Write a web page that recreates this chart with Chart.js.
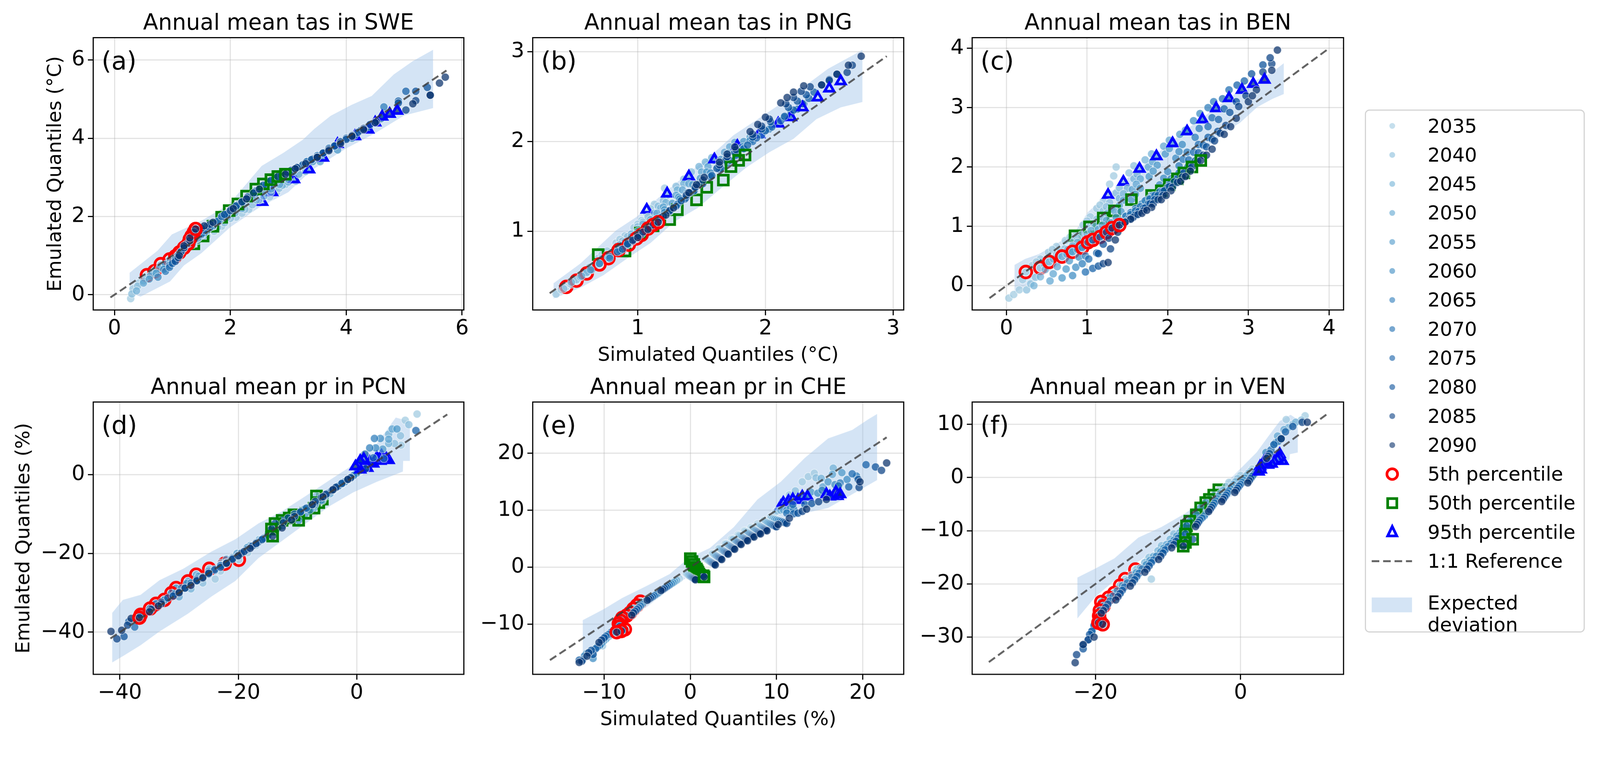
<!DOCTYPE html>
<html><head><meta charset="utf-8">
<script src="https://cdn.jsdelivr.net/npm/chart.js@4.4.1/dist/chart.umd.min.js"></script>
<style>
html,body{margin:0;padding:0;background:#fff;overflow:hidden;}
#root{position:absolute;left:0;top:0;width:4205px;height:1949px;transform-origin:0 0;font-family:"DejaVu Sans",sans-serif;background:#fff;}
canvas.panel{position:absolute;}
#legend{position:absolute;left:3587px;top:288px;width:578px;height:1375px;box-sizing:border-box;border:3px solid #d4d4d4;border-radius:12px;background:#fff;}
.lt{position:absolute;left:3752px;font-size:51px;line-height:61px;color:#000;white-space:nowrap;font-family:"DejaVu Sans",sans-serif;}
#lsvg{position:absolute;left:0;top:0;pointer-events:none;}
</style></head><body>
<div id="root">
<canvas id="pa" class="panel"></canvas>
<canvas id="pb" class="panel"></canvas>
<canvas id="pc" class="panel"></canvas>
<canvas id="pd" class="panel"></canvas>
<canvas id="pe" class="panel"></canvas>
<canvas id="pf" class="panel"></canvas>
<div id="legend"></div>
<svg id="lsvg" width="4205" height="1949"></svg>
</div>
<script>
// ---------------- DATA ----------------
const years = ['2035','2040','2045','2050','2055','2060','2065','2070','2075','2080','2085','2090'];
const percentileLabels = ['5th percentile','50th percentile','95th percentile'];

// (a) SWE tas
const sweQ = [
 [[0.28,-0.1],[0.32,0.15],[0.42,0.3],[0.56,0.48],[0.7,0.62],[0.85,0.78],[1.0,0.92],[1.18,1.1],[1.37,1.28],[1.6,1.5],[1.85,1.75],[2.1,1.98],[2.32,2.18],[2.55,2.38],[2.8,2.62]],
 [[0.3,0.02],[0.4,0.22],[0.55,0.45],[0.69,0.6],[0.85,0.76],[1.0,0.9],[1.18,1.1],[1.35,1.28],[1.53,1.48],[1.78,1.72],[2.0,1.95],[2.25,2.18],[2.5,2.42],[2.72,2.62],[2.95,2.82],[3.13,2.9]],
 [[0.38,0.1],[0.5,0.35],[0.65,0.55],[0.8,0.76],[0.95,0.9],[1.12,1.08],[1.3,1.3],[1.5,1.52],[1.7,1.74],[1.95,1.98],[2.2,2.2],[2.45,2.42],[2.7,2.62],[2.9,2.8],[3.1,2.95],[3.3,3.15]],
 [[0.5,0.3],[0.62,0.48],[0.78,0.68],[0.95,0.88],[1.1,1.04],[1.3,1.28],[1.5,1.52],[1.7,1.75],[1.85,1.96],[2.1,2.22],[2.4,2.48],[2.7,2.7],[3.0,2.95],[3.36,3.2],[3.55,3.4]],
 [[0.6,0.4],[0.72,0.55],[0.88,0.78],[1.05,0.96],[1.25,1.2],[1.45,1.45],[1.7,1.76],[1.98,2.12],[2.25,2.42],[2.55,2.68],[2.9,2.98],[3.25,3.3],[3.6,3.5],[3.85,3.7]],
 [[0.75,0.45],[0.85,0.65],[1.0,0.85],[1.12,1.05],[1.32,1.3],[1.55,1.58],[1.8,1.88],[2.13,2.3],[2.45,2.6],[2.8,2.92],[3.15,3.25],[3.5,3.55],[3.85,3.85],[4.1,4.0]],
 [[0.88,0.6],[0.95,0.75],[1.08,0.98],[1.2,1.18],[1.4,1.42],[1.65,1.72],[1.95,2.05],[2.28,2.45],[2.6,2.76],[2.95,3.05],[3.3,3.38],[3.7,3.75],[4.15,4.05],[4.4,4.3],[4.65,4.8]],
 [[0.95,0.7],[1.05,0.9],[1.15,1.1],[1.27,1.3],[1.5,1.55],[1.78,1.88],[2.1,2.25],[2.44,2.65],[2.8,2.95],[3.15,3.25],[3.5,3.55],[3.9,3.92],[4.38,4.22],[4.6,4.5]],
 [[1.0,0.8],[1.1,1.0],[1.2,1.2],[1.3,1.4],[1.55,1.65],[1.85,2.0],[2.2,2.38],[2.57,2.8],[2.9,3.05],[3.25,3.32],[3.6,3.62],[4.0,4.0],[4.5,4.4],[4.9,4.95],[5.03,5.2]],
 [[1.05,0.85],[1.15,1.1],[1.25,1.3],[1.33,1.5],[1.6,1.75],[1.9,2.05],[2.3,2.5],[2.7,2.92],[3.05,3.18],[3.4,3.45],[3.8,3.8],[4.2,4.15],[4.62,4.55],[4.9,4.9],[5.2,5.2],[5.4,5.3]],
 [[1.1,0.95],[1.2,1.2],[1.3,1.38],[1.37,1.6],[1.65,1.8],[2.0,2.15],[2.4,2.6],[2.82,3.02],[3.15,3.25],[3.5,3.52],[3.9,3.9],[4.3,4.25],[4.75,4.62],[5.03,4.72],[5.2,4.96],[5.45,5.1]],
 [[1.12,1.0],[1.2,1.25],[1.3,1.45],[1.4,1.68],[1.7,1.85],[2.05,2.2],[2.5,2.7],[2.95,3.08],[3.3,3.35],[3.7,3.68],[4.1,4.05],[4.5,4.4],[4.88,4.72],[5.15,4.88],[5.45,5.1],[5.61,5.41],[5.71,5.56]]
];
const sweQMid = [
 [[0.63,0.55],[0.92,0.85],[1.28,1.19],[1.72,1.62],[2.2,2.08],[2.68,2.5]],
 [[0.62,0.52],[0.93,0.83],[1.44,1.38],[1.9,1.84],[2.38,2.3],[2.84,2.72]],
 [[0.72,0.66],[1.04,1.0],[1.6,1.63],[2.08,2.09],[2.58,2.52],[3.0,2.88]],
 [[0.87,0.78],[1.2,1.16],[1.6,1.64],[2.25,2.35],[2.85,2.82],[3.18,3.08]],
 [[0.97,0.87],[1.35,1.32],[1.84,1.94],[2.4,2.55],[3.08,3.14],[3.42,3.4]],
 [[1.06,0.95],[1.43,1.44],[1.96,2.09],[2.62,2.76],[3.32,3.4],[3.68,3.7]],
 [[1.3,1.3],[1.8,1.88],[2.44,2.6],[3.12,3.22],[3.5,3.56],[3.92,3.9]],
 [[1.38,1.42],[1.94,2.06],[2.62,2.8],[3.32,3.4],[3.7,3.74],[4.14,4.07]],
 [[1.42,1.52],[2.02,2.19],[2.74,2.92],[3.42,3.47],[3.8,3.81],[4.25,4.2]],
 [[1.46,1.62],[2.1,2.27],[2.88,3.05],[3.6,3.62],[4.0,3.97],[4.41,4.35]],
 [[1.5,1.7],[2.2,2.37],[2.98,3.13],[3.7,3.71],[4.1,4.07],[4.52,4.43]],
 [[1.55,1.76],[2.28,2.45],[3.12,3.22],[3.5,3.51],[3.9,3.86],[4.3,4.22]]
];
const sweP5 = [[0.56,0.5],[0.69,0.6],[0.8,0.78],[0.95,0.9],[1.05,0.98],[1.12,1.08],[1.2,1.2],[1.27,1.3],[1.3,1.42],[1.33,1.5],[1.37,1.6],[1.4,1.68]];
const sweP50 = [[1.37,1.3],[1.53,1.5],[1.7,1.75],[1.85,1.98],[1.98,2.15],[2.13,2.32],[2.28,2.52],[2.44,2.7],[2.57,2.83],[2.7,2.94],[2.82,3.02],[2.95,3.08]];
const sweP95 = [[2.55,2.37],[2.72,2.62],[3.1,2.95],[3.36,3.2],[3.6,3.5],[3.85,3.85],[4.15,4.05],[4.38,4.22],[4.5,4.4],[4.62,4.55],[4.75,4.62],[4.88,4.7]];
const sweBandHi = [[0.26,0.56],[0.74,1.12],[0.99,1.54],[1.51,1.9],[1.97,2.3],[2.54,3.29],[2.92,3.63],[3.25,3.96],[3.45,4.24],[3.73,4.57],[4.09,4.85],[4.44,5.08],[4.82,5.63],[5.15,5.97],[5.5,6.26]];
const sweBandLo = [[0.26,0.05],[0.45,-0.05],[0.96,0.34],[1.2,0.75],[1.5,1.06],[2.0,1.73],[2.5,2.23],[3.0,2.62],[3.4,3.18],[4.0,3.74],[4.5,4.13],[5.0,4.58],[5.5,4.77]];
const sweRef = [-0.07, 5.73];
const sweXTicks = [0,2,4,6], sweYTicks = [0,2,4,6];

// (b) PNG tas
const pngQ = [
 [[0.36,0.3],[0.4,0.35],[0.44,0.38],[0.5,0.45],[0.56,0.52],[0.62,0.6],[0.69,0.7],[0.76,0.78],[0.83,0.87],[0.9,0.95],[0.97,1.04],[1.03,1.12],[1.07,1.2],[1.13,1.3],[1.21,1.48]],
 [[0.42,0.36],[0.48,0.41],[0.52,0.46],[0.6,0.55],[0.68,0.65],[0.76,0.74],[0.84,0.84],[0.92,0.94],[1.0,1.05],[1.08,1.16],[1.16,1.28],[1.23,1.4],[1.3,1.5],[1.42,1.66]],
 [[0.48,0.43],[0.55,0.49],[0.6,0.54],[0.68,0.63],[0.77,0.74],[0.86,0.85],[0.95,0.97],[1.04,1.08],[1.13,1.2],[1.22,1.32],[1.31,1.46],[1.4,1.6],[1.48,1.72],[1.58,1.82]],
 [[0.56,0.5],[0.64,0.57],[0.7,0.64],[0.8,0.76],[0.9,0.88],[1.0,1.0],[1.1,1.13],[1.2,1.27],[1.3,1.4],[1.4,1.53],[1.5,1.66],[1.6,1.79],[1.68,1.88],[1.76,1.99]],
 [[0.63,0.57],[0.7,0.64],[0.77,0.71],[0.88,0.84],[0.99,0.97],[1.1,1.1],[1.21,1.24],[1.32,1.38],[1.43,1.52],[1.54,1.66],[1.65,1.8],[1.78,1.94],[1.88,2.05]],
 [[0.7,0.64],[0.78,0.72],[0.85,0.8],[0.97,0.93],[1.09,1.07],[1.21,1.21],[1.33,1.36],[1.45,1.5],[1.57,1.65],[1.69,1.8],[1.82,1.94],[1.95,2.08],[2.05,2.18]],
 [[0.78,0.7],[0.86,0.78],[0.93,0.86],[1.05,1.0],[1.18,1.15],[1.31,1.3],[1.44,1.45],[1.57,1.6],[1.7,1.76],[1.83,1.92],[1.97,2.07],[2.1,2.21],[2.2,2.33]],
 [[0.84,0.77],[0.92,0.85],[0.99,0.93],[1.12,1.07],[1.25,1.22],[1.38,1.38],[1.51,1.53],[1.64,1.69],[1.77,1.85],[1.9,2.0],[2.05,2.16],[2.2,2.3],[2.3,2.42]],
 [[0.88,0.8],[0.96,0.89],[1.03,0.97],[1.16,1.12],[1.3,1.28],[1.44,1.45],[1.58,1.62],[1.72,1.79],[1.86,1.96],[2.0,2.12],[2.15,2.28],[2.29,2.42],[2.38,2.55]],
 [[0.92,0.86],[1.0,0.95],[1.08,1.03],[1.2,1.17],[1.34,1.34],[1.48,1.52],[1.62,1.7],[1.76,1.88],[1.9,2.05],[2.04,2.22],[2.18,2.38],[2.32,2.52],[2.44,2.63],[2.56,2.75]],
 [[0.96,0.9],[1.04,0.99],[1.12,1.07],[1.25,1.23],[1.38,1.4],[1.51,1.57],[1.64,1.74],[1.77,1.91],[1.9,2.08],[2.03,2.25],[2.16,2.42],[2.28,2.56],[2.35,2.61],[2.64,2.77],[2.68,2.85]],
 [[1.0,0.93],[1.08,1.02],[1.16,1.1],[1.28,1.26],[1.4,1.43],[1.52,1.6],[1.64,1.77],[1.76,1.94],[1.88,2.11],[2.0,2.27],[2.12,2.43],[2.22,2.55],[2.3,2.62],[2.44,2.63],[2.56,2.75],[2.75,2.95]]
];
const pngQMid = [
 [[0.47,0.41],[0.59,0.56],[0.72,0.74],[0.86,0.91],[1.0,1.08],[1.1,1.25]],
 [[0.55,0.5],[0.72,0.7],[0.88,0.89],[1.04,1.1],[1.2,1.34],[1.36,1.58]],
 [[0.64,0.58],[0.82,0.8],[1.0,1.02],[1.18,1.26],[1.36,1.53],[1.53,1.77]],
 [[0.75,0.7],[0.95,0.94],[1.15,1.2],[1.35,1.46],[1.55,1.72],[1.72,1.94]],
 [[0.83,0.78],[1.05,1.04],[1.27,1.31],[1.49,1.59],[1.71,1.87],[1.83,2.0]],
 [[0.91,0.86],[1.15,1.14],[1.39,1.43],[1.63,1.72],[1.88,2.01],[2.0,2.13]],
 [[0.99,0.93],[1.25,1.23],[1.5,1.52],[1.77,1.84],[2.03,2.14],[2.15,2.27]],
 [[1.05,1.0],[1.31,1.3],[1.57,1.61],[1.83,1.92],[2.12,2.23],[2.25,2.36]],
 [[1.1,1.05],[1.37,1.36],[1.65,1.7],[1.93,2.04],[2.22,2.35],[2.34,2.48]],
 [[1.14,1.1],[1.41,1.43],[1.69,1.79],[1.97,2.14],[2.25,2.45],[2.5,2.69]],
 [[1.18,1.15],[1.45,1.49],[1.7,1.83],[1.97,2.17],[2.22,2.49],[2.5,2.68]],
 [[1.22,1.18],[1.46,1.52],[1.7,1.86],[1.94,2.19],[2.17,2.49],[2.65,2.85]]
];
const pngP5 = [[0.44,0.38],[0.52,0.45],[0.6,0.53],[0.7,0.63],[0.77,0.7],[0.85,0.79],[0.93,0.85],[0.99,0.92],[1.03,0.96],[1.08,1.03],[1.12,1.07],[1.16,1.1]];
const pngP50 = [[0.69,0.74],[0.9,0.78],[1.02,0.98],[1.12,1.06],[1.25,1.13],[1.31,1.24],[1.46,1.35],[1.54,1.49],[1.67,1.57],[1.73,1.72],[1.79,1.79],[1.84,1.85]];
const pngP95 = [[1.07,1.24],[1.23,1.42],[1.4,1.61],[1.6,1.8],[1.78,1.95],[1.95,2.08],[2.1,2.2],[2.2,2.27],[2.29,2.38],[2.41,2.49],[2.5,2.59],[2.59,2.67]];
const pngBandHi = [[0.34,0.42],[0.55,0.64],[0.83,1.01],[0.99,1.16],[1.2,1.42],[1.38,1.63],[1.57,1.84],[1.75,2.07],[1.94,2.25],[2.12,2.42],[2.31,2.62],[2.49,2.81],[2.76,3.02]];
const pngBandLo = [[0.34,0.25],[0.55,0.37],[0.73,0.51],[0.92,0.7],[1.1,0.87],[1.29,1.11],[1.47,1.26],[1.66,1.49],[1.85,1.71],[2.03,1.88],[2.22,2.03],[2.4,2.25],[2.59,2.38],[2.76,2.44]];
const pngRef = [0.31, 2.95];
const pngXTicks = [1,2,3], pngYTicks = [1,2,3];

// (c) BEN tas
const benQ = [
 [[0.03,-0.21],[0.09,-0.15],[0.16,-0.07],[0.2,0.1],[0.24,0.23],[0.32,0.34],[0.42,0.45],[0.52,0.56],[0.62,0.66],[0.73,0.76],[0.85,0.88],[0.95,1.02],[1.04,1.16],[1.12,1.3],[1.2,1.42],[1.26,1.53],[1.28,1.71],[1.33,1.85],[1.36,2.0]],
 [[0.25,-0.07],[0.3,0.03],[0.36,0.14],[0.42,0.3],[0.52,0.42],[0.62,0.52],[0.72,0.62],[0.83,0.74],[0.93,0.86],[1.03,0.99],[1.12,1.12],[1.2,1.26],[1.28,1.4],[1.36,1.56],[1.45,1.75],[1.52,1.9],[1.58,2.02]],
 [[0.34,0.0],[0.42,0.15],[0.48,0.27],[0.53,0.4],[0.64,0.5],[0.76,0.61],[0.88,0.73],[1.0,0.87],[1.1,1.0],[1.2,1.14],[1.3,1.3],[1.4,1.47],[1.5,1.64],[1.58,1.8],[1.65,1.97],[1.72,2.12],[1.8,2.22]],
 [[0.54,0.08],[0.58,0.2],[0.63,0.32],[0.69,0.49],[0.8,0.58],[0.92,0.68],[1.03,0.8],[1.14,0.95],[1.24,1.1],[1.34,1.26],[1.45,1.44],[1.56,1.62],[1.66,1.8],[1.76,2.0],[1.86,2.18],[1.95,2.35],[2.02,2.45]],
 [[0.69,0.13],[0.74,0.28],[0.78,0.42],[0.82,0.57],[0.94,0.66],[1.06,0.76],[1.18,0.9],[1.3,1.06],[1.42,1.25],[1.55,1.45],[1.66,1.64],[1.77,1.84],[1.87,2.03],[1.97,2.22],[2.06,2.4],[2.15,2.55],[2.22,2.62]],
 [[0.82,0.17],[0.86,0.31],[0.9,0.48],[0.94,0.64],[1.06,0.74],[1.18,0.85],[1.3,0.98],[1.42,1.1],[1.55,1.24],[1.68,1.38],[1.8,1.52],[1.9,1.7],[2.0,1.92],[2.1,2.15],[2.18,2.38],[2.24,2.6],[2.32,2.78],[2.4,2.9]],
 [[0.94,0.37],[0.98,0.5],[1.01,0.73],[1.12,0.82],[1.24,0.93],[1.36,1.05],[1.48,1.17],[1.6,1.3],[1.72,1.43],[1.82,1.52],[1.92,1.6],[2.04,1.8],[2.14,2.02],[2.24,2.25],[2.34,2.5],[2.43,2.8],[2.5,3.0],[2.57,3.1]],
 [[0.98,0.23],[1.02,0.45],[1.07,0.77],[1.18,0.86],[1.3,0.97],[1.42,1.08],[1.54,1.2],[1.66,1.33],[1.78,1.46],[1.9,1.58],[2.02,1.7],[2.14,1.9],[2.26,2.12],[2.38,2.38],[2.5,2.68],[2.6,2.99],[2.68,3.15],[2.76,3.3]],
 [[1.07,0.29],[1.12,0.55],[1.16,0.82],[1.28,0.92],[1.4,1.02],[1.52,1.13],[1.64,1.25],[1.76,1.38],[1.88,1.52],[2.0,1.66],[2.12,1.8],[2.25,2.0],[2.38,2.24],[2.5,2.5],[2.63,2.8],[2.76,3.16],[2.86,3.38],[2.95,3.45]],
 [[1.14,0.33],[1.14,0.54],[1.2,0.7],[1.24,0.9],[1.36,0.99],[1.48,1.08],[1.6,1.19],[1.72,1.31],[1.84,1.45],[1.96,1.6],[2.08,1.75],[2.2,1.9],[2.34,2.1],[2.48,2.34],[2.62,2.6],[2.77,2.92],[2.92,3.3],[3.04,3.57],[3.18,3.72]],
 [[1.2,0.37],[1.29,0.62],[1.27,0.8],[1.31,0.97],[1.44,1.06],[1.57,1.15],[1.7,1.26],[1.82,1.38],[1.94,1.52],[2.06,1.66],[2.18,1.83],[2.3,2.0],[2.44,2.2],[2.58,2.44],[2.72,2.7],[2.88,3.02],[3.06,3.4],[3.18,3.6],[3.29,3.74],[3.27,3.84]],
 [[1.26,0.39],[1.35,0.77],[1.38,0.9],[1.4,1.02],[1.54,1.12],[1.68,1.22],[1.8,1.32],[1.92,1.45],[2.04,1.6],[2.16,1.76],[2.28,1.93],[2.41,2.11],[2.55,2.3],[2.7,2.55],[2.85,2.82],[3.0,3.1],[3.1,3.3],[3.2,3.47],[3.29,3.63],[3.36,3.97]]
];
const benQMid = [
 [[0.37,0.4],[0.57,0.61],[0.79,0.82],[1.0,1.09],[1.16,1.36]],
 [[0.47,0.36],[0.67,0.57],[0.88,0.8],[1.08,1.05],[1.24,1.33],[1.4,1.65]],
 [[0.58,0.45],[0.82,0.67],[1.05,0.93],[1.25,1.22],[1.45,1.55],[1.62,1.88]],
 [[0.75,0.53],[0.98,0.74],[1.19,1.02],[1.4,1.35],[1.61,1.71],[1.81,2.09]],
 [[0.88,0.61],[1.12,0.83],[1.36,1.15],[1.6,1.54],[1.82,1.93],[2.02,2.31]],
 [[1.0,0.69],[1.24,0.91],[1.48,1.17],[1.74,1.45],[1.95,1.81],[2.14,2.26]],
 [[1.06,0.77],[1.3,0.99],[1.54,1.23],[1.77,1.47],[1.98,1.7],[2.19,2.13],[2.39,2.65]],
 [[1.12,0.81],[1.36,1.02],[1.6,1.26],[1.84,1.52],[2.08,1.8],[2.32,2.25],[2.55,2.83]],
 [[1.22,0.87],[1.46,1.07],[1.7,1.31],[1.94,1.59],[2.18,1.9],[2.44,2.37],[2.7,2.98]],
 [[1.3,0.94],[1.54,1.13],[1.78,1.38],[2.02,1.67],[2.27,2.0],[2.55,2.47],[2.85,3.1]],
 [[1.37,1.01],[1.63,1.2],[1.88,1.45],[2.12,1.74],[2.37,2.1],[2.65,2.57],[2.97,3.2]],
 [[1.47,1.07],[1.74,1.27],[1.98,1.52],[2.22,1.84],[2.48,2.2],[2.78,2.68],[3.05,3.2]]
];
const benP5 = [[0.24,0.23],[0.42,0.3],[0.53,0.4],[0.69,0.49],[0.82,0.57],[0.94,0.64],[1.01,0.73],[1.07,0.77],[1.16,0.82],[1.24,0.9],[1.31,0.97],[1.4,1.02]];
const benP50 = [[0.85,0.84],[1.03,0.99],[1.2,1.14],[1.34,1.26],[1.55,1.45],[1.8,1.52],[1.92,1.6],[2.02,1.7],[2.12,1.8],[2.2,1.9],[2.3,2.0],[2.41,2.11]];
const benP95 = [[1.26,1.53],[1.45,1.75],[1.65,1.97],[1.86,2.18],[2.06,2.4],[2.24,2.6],[2.43,2.8],[2.6,2.99],[2.76,3.16],[2.92,3.3],[3.06,3.4],[3.2,3.47]];
const benBandHi = [[0.1,0.35],[0.23,0.45],[0.4,0.53],[0.59,0.68],[0.84,0.89],[1.01,1.24],[1.14,1.4],[1.4,1.7],[1.8,2.15],[2.2,2.6],[2.6,3.0],[3.0,3.4],[3.3,3.6],[3.44,3.75]];
const benBandLo = [[0.1,-0.12],[0.3,0.05],[0.6,0.3],[1.0,0.65],[1.4,1.0],[1.8,1.45],[2.2,1.95],[2.5,2.35],[2.75,2.62],[2.9,2.75],[3.11,3.01],[3.3,3.15],[3.44,3.23]];
const benRef = [-0.21, 3.97];
const benXTicks = [0,1,2,3,4], benYTicks = [0,1,2,3,4];

// (d) PCN pr
const pcnQ = [
 [[-23.9,-26.5],[-23,-24.5],[-19.9,-21.6],[-17,-18],[-14,-14.5],[-11,-11.3],[-8,-8.3],[-5.8,-6.2],[-3.5,-3.5],[-1.5,-1.3],[0.5,0.8],[2.5,2.6],[5.4,3.7],[7.5,7.5],[8.2,13.8],[10.2,15.4]],
 [[-26,-27.5],[-24,-24.5],[-22.3,-22.6],[-19,-19.5],[-16,-16.3],[-13,-13.2],[-10,-10],[-6.8,-5.4],[-4.5,-4.3],[-2,-1.8],[0.5,0.9],[2.5,2.8],[5,4.1],[6.4,7.9],[7.4,9.9],[8.8,12.7]],
 [[-28,-29],[-26.5,-26.5],[-24.9,-23.9],[-21,-21],[-18,-18],[-15,-15],[-12,-12],[-9,-9],[-6.4,-7.1],[-4,-4],[-1.5,-1.2],[1,1.5],[4.2,4.8],[5.4,7.9],[5.4,10.3]],
 [[-30,-31],[-29,-28],[-27.1,-25.4],[-23,-23],[-20,-20.2],[-17,-17.2],[-14,-14],[-10.5,-10.5],[-7.2,-8.5],[-4.5,-4.8],[-2,-1.8],[0.8,1.3],[4,3.5],[5.4,9.0],[6.0,11.6]],
 [[-32,-32],[-30,-29.5],[-28.5,-27.1],[-25,-24.5],[-22,-21.5],[-18.5,-18.5],[-15,-15],[-12,-12],[-8.6,-9.8],[-5.5,-5.5],[-2.5,-2.3],[0.5,1.0],[3.4,4.3],[4.4,6.5],[6.8,11.6]],
 [[-34,-34],[-32,-31.5],[-30.5,-28.8],[-27,-26.5],[-23,-23],[-19.5,-19.8],[-16,-16.3],[-12.5,-13],[-9.8,-11.6],[-6,-6.5],[-3,-2.8],[0,0.4],[2.8,2.8],[3.2,6.8],[4.0,9.2]],
 [[-36,-35.5],[-33,-32.5],[-31.3,-30.1],[-28,-27.5],[-24,-24],[-20,-20.5],[-17,-17.5],[-13.5,-13.8],[-10.6,-10.2],[-7,-7.2],[-3.5,-3.3],[-0.5,-0.2],[2.2,3.2],[2.2,6.8],[3.0,9.2]],
 [[-37.5,-38.7],[-35,-34.5],[-32.5,-31.8],[-29,-28.8],[-25,-25],[-21,-21.3],[-17.5,-18],[-14,-14.5],[-11.4,-11.0],[-7.5,-7.6],[-4,-3.9],[-1,-0.7],[1.8,1.7],[2.8,4.3],[4.6,4.1]],
 [[-38.5,-37.3],[-36,-35.5],[-33.9,-32.8],[-30,-29.8],[-26,-26],[-22,-22.5],[-18.5,-19],[-15,-15.5],[-12.6,-11.6],[-8.5,-8.5],[-5,-4.8],[-1.5,-1.3],[1.2,3.9],[1.4,5.2],[10,11.2]],
 [[-39.3,-41.1],[-37,-36.5],[-34.9,-34],[-31,-30.8],[-27,-27],[-23,-23.5],[-19.5,-20],[-16,-16.5],[-13.8,-12.4],[-9.5,-9.5],[-6,-5.8],[-2.5,-2.2],[0.6,3.5],[1.5,1.5]],
 [[-40.5,-41.7],[-38.7,-38.2],[-36.5,-35.6],[-33,-32.8],[-29,-28.8],[-25,-25],[-21,-21.5],[-17,-17.5],[-14.4,-13.8],[-10.5,-10.6],[-7,-6.8],[-3.5,-3.2],[-1,-0.8],[0.6,1.3]],
 [[-41.5,-39.8],[-39.7,-39.5],[-38.1,-36.5],[-36.7,-36.3],[-33.5,-33.3],[-30,-30],[-26,-26.2],[-22,-22.5],[-18,-18.7],[-14.2,-15.6],[-11,-11.5],[-7.5,-7.6],[-4,-3.8],[-1.5,-1.2],[-0.2,2.1]]
];
const pcnQMid = [
 [[-18.4,-19.8],[-12.5,-12.9],[-9.5,-9.8],[-2.5,-2.4],[1.5,1.7]],
 [[-20.6,-21],[-14.5,-14.7],[-11.5,-11.6],[-3.2,-3.0],[1.5,1.8]],
 [[-22.9,-22.4],[-16.5,-16.5],[-10.5,-10.5],[-5.2,-5.5],[-0.2,0.2]],
 [[-25,-24.2],[-18.5,-18.7],[-12.2,-12.2],[-5.8,-6.6],[-0.6,-0.3]],
 [[-26.7,-25.8],[-20.2,-20],[-13.5,-13.5],[-7,-7.6],[-1,-0.6]],
 [[-28.7,-27.6],[-21.2,-21.4],[-14.2,-14.6],[-7.9,-9],[-1.5,-1.2]],
 [[-29.6,-28.8],[-22,-22.3],[-15.2,-15.6],[-8.8,-8.7],[-2,-1.8]],
 [[-30.7,-30.3],[-23,-23.1],[-15.8,-16.2],[-9.4,-9.3],[-2.5,-2.3]],
 [[-31.9,-31.3],[-24,-24.2],[-16.7,-17.2],[-10.5,-10],[-3.2,-3.0]],
 [[-33,-32.4],[-25,-25.2],[-17.7,-18.2],[-11.6,-11],[-4.2,-4.0]],
 [[-34.7,-34.2],[-27,-26.9],[-19,-19.5],[-12.4,-12.2],[-5.2,-5.0]],
 [[-35,-34.8],[-28,-28.1],[-20,-20.6],[-12.6,-13.5],[-5.7,-5.6]]
];
const pcnP5 = [[-19.9,-21.6],[-22.3,-22.6],[-24.9,-23.9],[-27.1,-25.4],[-28.5,-27.1],[-30.5,-28.8],[-31.3,-30.1],[-32.5,-31.8],[-33.9,-32.8],[-34.9,-34.0],[-36.5,-35.6],[-36.7,-36.3]];
const pcnP50 = [[-5.8,-6.2],[-6.8,-5.4],[-6.4,-7.1],[-7.2,-8.5],[-8.6,-9.8],[-9.8,-11.6],[-10.6,-10.2],[-11.4,-11.0],[-12.6,-11.6],[-13.8,-12.4],[-14.4,-13.8],[-14.2,-15.6]];
const pcnP95 = [[5.4,3.7],[5.0,4.1],[4.2,4.8],[4.0,3.5],[3.4,4.3],[2.8,2.8],[2.2,3.2],[1.8,1.7],[1.2,3.9],[0.6,3.5],[0.6,1.3],[-0.2,2.1]];
const pcnBandHi = [[-41.3,-35.1],[-39.5,-31.8],[-36.5,-30.5],[-33.3,-26.8],[-29.3,-23.9],[-24.5,-19.5],[-20.5,-16.4],[-16.6,-12.4],[-12.6,-9.3],[-8.6,-5.4],[-4.6,-1.4],[-1.4,1.7],[1.4,5.2],[3.4,7.9],[6.6,14.5],[9.0,13.5]];
const pcnBandLo = [[-41.3,-47.7],[-39.3,-45.9],[-36.5,-43.3],[-33.3,-39.8],[-28.5,-35.3],[-24.5,-30.9],[-20.5,-27.0],[-16.6,-21.2],[-12.6,-16.8],[-8.6,-12.4],[-4.6,-8.0],[-0.6,-4.5],[3.4,-1.8],[7.8,0.8],[7.85,3.5],[9.0,3.5]];
const pcnRef = [-41.6, 15.3];
const pcnXTicks = [-40,-20,0], pcnYTicks = [-40,-20,0];

// (e) CHE pr
const cheQ = [
 [[-10.2,-13.8],[-8.8,-11.4],[-7.3,-9.0],[-5.8,-6.05],[-4.3,-5.2],[-2.8,-3.6],[-1.3,-2.0],[0,1.5],[1.8,1.5],[3.3,3.3],[4.8,5.0],[6.3,6.4],[7.8,7.6],[9.3,8.8],[10.5,10.7],[11.5,12.7],[13,15],[13.7,15.9],[14.4,16.5]],
 [[-10.9,-14.1],[-9.2,-11.8],[-7.7,-9.4],[-6.2,-6.7],[-4.6,-5.4],[-3,-3.8],[-1.5,-2.2],[0.2,1.0],[1.9,1.4],[3.4,3.3],[4.9,4.9],[6.4,6.3],[7.9,7.4],[9.4,8.6],[10.8,11.3],[12.2,13.4],[14.6,15.7]],
 [[-11.3,-15.3],[-9.5,-12.2],[-8,-9.8],[-6.6,-7.3],[-4.9,-5.6],[-3.2,-4],[-1.6,-2.3],[0.4,0.5],[2,1.3],[3.5,3.2],[5,4.9],[6.5,6.2],[8,7.3],[9.6,8.5],[11.4,11.6],[12.8,12.5],[15.2,15.6],[16.6,17.4]],
 [[-11.8,-14.9],[-9.8,-12.6],[-8.3,-10.2],[-7,-8],[-5.2,-5.9],[-3.4,-4.2],[-1.8,-2.5],[0.5,0],[2.1,1.2],[3.6,3.1],[5.1,4.8],[6.6,6.1],[8.1,7.2],[9.8,8.4],[11.9,11.9],[13.4,12.6],[15.4,14.1],[16.5,16.3]],
 [[-12.1,-15.2],[-10.1,-13],[-8.6,-10.6],[-7.4,-8.5],[-5.4,-6.2],[-3.6,-4.4],[-2,-2.7],[0.7,-0.3],[2.2,1.1],[3.7,3.0],[5.2,4.7],[6.7,6.0],[8.2,7.1],[10,8.3],[12.5,11.8],[14,13.2],[16,15.0],[17.6,16.6]],
 [[-11.3,-16.0],[-10.3,-13.4],[-8.9,-11],[-7.9,-8.9],[-5.6,-6.5],[-3.8,-4.6],[-2.2,-2.9],[0.8,-0.6],[2.3,1.0],[3.8,2.9],[5.3,4.6],[6.8,5.9],[8.3,7.0],[10.2,8.2],[13.0,12.4],[14.8,13.0],[16.8,14.5],[18.2,15.4]],
 [[-12.3,-15.6],[-10.5,-13.7],[-9.2,-11.4],[-8.1,-9.4],[-5.8,-6.8],[-4,-4.8],[-2.4,-3.1],[0.9,-0.9],[2.4,0.9],[3.9,2.8],[5.4,4.5],[6.9,5.8],[8.4,6.9],[10.4,8.1],[13.6,12.4],[15.3,13.5],[17.4,14.8],[19.3,16.0]],
 [[-12.5,-16.2],[-10.8,-14],[-9.5,-11.8],[-8.3,-9.9],[-6,-7.1],[-4.2,-5],[-2.6,-3.3],[1,-1.2],[2.5,0.8],[4,2.7],[5.5,4.4],[7,5.7],[8.5,6.8],[10.6,8.0],[11.9,11.0],[15.8,12.8],[17.2,14.3],[18.8,16.4]],
 [[-12.9,-16.3],[-11,-14.3],[-9.8,-12.1],[-8.2,-10.4],[-6.2,-7.4],[-4.4,-5.2],[-2.8,-3.5],[1.1,-1.4],[2.6,0.7],[4.1,2.6],[5.6,4.3],[7.1,5.6],[8.6,6.7],[10.8,7.9],[13.3,11.0],[16.2,12.4],[18.4,14.1],[20.4,18.0]],
 [[-11.3,-15.3],[-11.5,-14.6],[-10,-12.4],[-7.6,-10.9],[-6.4,-7.7],[-4.6,-5.4],[-3,-3.7],[1.3,-1.6],[2.7,0.6],[4.2,2.5],[5.7,4.2],[7.2,5.5],[8.7,6.6],[11,7.8],[14.1,11.2],[16.9,13.2],[19.5,15.4],[21.5,17.6]],
 [[-12.6,-16.5],[-11.8,-15],[-10.3,-12.8],[-8,-11.2],[-6.6,-8],[-4.8,-5.6],[-3.2,-3.9],[1.5,-1.5],[2.8,0.5],[4.3,2.4],[5.8,4.1],[7.3,5.4],[8.8,6.5],[11.2,7.7],[14.9,11.5],[17.1,12.5],[19.6,14.0],[22.2,17.0]],
 [[-12.9,-16.7],[-12,-15.6],[-10.6,-13.2],[-8.55,-11.4],[-6.8,-8.4],[-5,-5.8],[-3.4,-4.1],[1.6,-1.7],[2.9,0.4],[4.4,2.3],[5.9,4.0],[7.4,5.3],[8.9,6.4],[11.5,8.6],[15.8,11.9],[17.4,12.8],[19.7,15.0],[22.8,18.3]]
];
const cheQMid = [
 [[-0.5,-1.1],[2.55,2.4],[4.05,4.15],[5.55,5.7],[7.05,7.0],[8.55,8.2],[9.9,9.7]],
 [[-0.4,-1.2],[2.65,2.35],[4.15,4.1],[5.65,5.6],[7.15,6.85],[8.65,8.0],[10.1,9.9]],
 [[-0.3,-1.3],[2.75,2.25],[4.25,4.05],[5.75,5.55],[7.25,6.75],[8.8,7.9],[10.5,10.0]],
 [[-0.2,-1.4],[2.85,2.15],[4.35,3.95],[5.85,5.45],[7.35,6.65],[8.95,7.8],[10.8,10.1]],
 [[-0.1,-1.5],[2.95,2.05],[4.45,3.85],[5.95,5.35],[7.45,6.55],[9.1,7.7],[11.2,10.0]],
 [[0.0,-1.6],[3.05,1.95],[4.55,3.75],[6.05,5.25],[7.55,6.45],[9.25,7.6],[11.6,10.3]],
 [[0.1,-1.7],[3.15,1.85],[4.65,3.65],[6.15,5.15],[7.65,6.35],[9.4,7.5],[12.0,10.2]],
 [[0.2,-1.8],[3.25,1.75],[4.75,3.55],[6.25,5.05],[7.75,6.25],[9.55,7.4],[11.2,9.5]],
 [[0.3,-1.9],[3.35,1.65],[4.85,3.45],[6.35,4.95],[7.85,6.15],[9.7,7.3],[12.0,9.4]],
 [[0.4,-2.0],[3.45,1.55],[4.95,3.35],[6.45,4.85],[7.95,6.05],[9.85,7.2],[12.5,9.5]],
 [[0.5,-2.1],[3.55,1.45],[5.05,3.25],[6.55,4.75],[8.05,5.95],[10.0,7.1],[13.0,9.8]],
 [[0.6,-2.2],[3.65,1.35],[5.15,3.15],[6.65,4.65],[8.15,5.85],[10.2,7.5],[13.5,10.2]]
];
const cheP5 = [[-5.8,-6.05],[-6.2,-6.7],[-6.6,-7.3],[-7.0,-8.0],[-7.4,-8.5],[-7.9,-8.9],[-8.1,-9.4],[-8.3,-9.9],[-8.2,-10.4],[-7.6,-10.9],[-8.0,-11.2],[-8.55,-11.4]];
const cheP50 = [[0.0,1.5],[0.2,1.0],[0.4,0.5],[0.5,0.0],[0.7,-0.3],[0.8,-0.6],[0.9,-0.9],[1.0,-1.2],[1.1,-1.4],[1.3,-1.6],[1.5,-1.5],[1.6,-1.7]];
const cheP95 = [[10.5,10.7],[10.8,11.3],[11.4,11.6],[11.9,11.9],[12.5,11.8],[13.0,12.4],[13.6,12.4],[15.8,12.8],[16.2,12.4],[16.9,13.2],[17.1,12.5],[17.4,12.8]];
const cheBandHi = [[-12.5,-9.3],[-10.1,-7.4],[-7.9,-5.4],[-5.1,-3.3],[-2.4,-1.2],[-0.2,1.6],[2.3,3.4],[5.05,7.05],[7.8,11.9],[10.5,15.0],[13.3,19.2],[16.0,22.6],[18.8,24.1],[20.7,26.0],[21.7,26.9]];
const cheBandLo = [[-12.5,-16.7],[-11.4,-14.3],[-10.1,-12.1],[-7.9,-9.4],[-5.1,-7.0],[-2.4,-3.9],[-0.4,-1.8],[0.9,0.35],[2.3,2.2],[5.05,3.7],[7.8,5.5],[10.5,8.0],[13.3,9.5],[16.0,10.4],[18.8,12.8],[21.7,15.3]];
const cheRef = [-16.3, 22.8];
const cheXTicks = [-10,0,10,20], cheYTicks = [-10,0,10,20];

// (f) VEN pr
const venQ = [
 [[-16.6,-21.8],[-15.6,-19.9],[-14.5,-17.3],[-12.3,-19.1],[-12.8,-15.4],[-11,-13.2],[-9.3,-11],[-7.6,-8.6],[-6,-6.4],[-4.5,-4.2],[-3,-2.3],[-1.6,-0.9],[0,0.4],[1.6,1.6],[3.2,2.6],[5.8,3.1],[6.3,10.9],[8.9,11.6]],
 [[-17.6,-23],[-16.8,-21],[-15.9,-19.1],[-14.3,-17.2],[-12.6,-15],[-10.9,-12.8],[-9.2,-10.6],[-7.6,-8.4],[-6,-6.4],[-4.6,-4.5],[-3.7,-3.3],[-2,-1.7],[-0.4,-0.2],[1.4,1.2],[3,2.4],[5.4,4.4],[7.2,10.0],[8.4,10.8]],
 [[-18.5,-24.5],[-17.6,-22.3],[-16.6,-20.3],[-15,-18.3],[-13.2,-16],[-11.4,-13.8],[-9.7,-11.6],[-8,-9.4],[-6.2,-7.2],[-5,-5.5],[-4.3,-4.1],[-2.4,-2.4],[-0.7,-0.8],[1.1,0.8],[2.8,2.2],[5.4,3.75],[6.6,9.4],[7.6,10.4]],
 [[-19.2,-25.8],[-18.3,-23.6],[-17.4,-21.7],[-15.6,-19.4],[-13.8,-17],[-12,-14.8],[-10.2,-12.6],[-8.4,-10.4],[-6.6,-8.1],[-5.6,-6.6],[-4.8,-4.7],[-2.8,-3],[-1,-1.3],[0.8,0.3],[2.6,1.9],[5.1,3.4],[5.1,7.8],[6.0,9.0]],
 [[-19.8,-27],[-19,-24.8],[-18.2,-22.6],[-16.3,-20.3],[-14.4,-17.9],[-12.5,-15.6],[-10.6,-13.3],[-8.8,-11],[-7,-8.8],[-5.5,-5.7],[-4.5,-6.2],[-3,-3.5],[-1.2,-1.7],[0.6,-0.1],[2.4,1.6],[4.6,3.1],[4.6,6.2],[5.6,7.3]],
 [[-20.2,-28],[-19.5,-26],[-19.2,-23.4],[-17,-21.3],[-15,-18.8],[-13,-16.4],[-11,-14],[-9.2,-11.8],[-7.4,-9.5],[-6.1,-7.0],[-4.8,-6.8],[-3.2,-4],[-1.4,-2.1],[0.4,-0.5],[2.2,1.3],[4.3,2.6],[3.5,4.7],[4.8,6.5]],
 [[-20.5,-28.9],[-19.9,-26.8],[-18.9,-24.2],[-17.6,-22.3],[-15.6,-19.8],[-13.6,-17.2],[-11.6,-14.8],[-9.6,-12.4],[-7.7,-10.2],[-7.0,-8.2],[-5,-7.2],[-3.4,-4.4],[-1.6,-2.5],[0.2,-0.9],[2,0.9],[3.8,2.4],[3.8,3.8],[5.2,6.8]],
 [[-21,-30.5],[-20.2,-27.8],[-19.4,-25.0],[-18,-23.2],[-16,-20.6],[-14,-18],[-12,-15.5],[-10,-13],[-8.2,-10.8],[-7.45,-9.1],[-5.3,-7.6],[-3.6,-4.8],[-1.8,-2.9],[0,-1.3],[1.8,0.5],[3.5,3.4],[4.2,5.2],[5.6,7.3]],
 [[-21.7,-31.5],[-20.5,-28.9],[-19.5,-26.0],[-18.3,-23.8],[-16.3,-21.2],[-14.3,-18.6],[-12.3,-16],[-10.4,-13.6],[-8.6,-11.4],[-7.6,-10.6],[-5.6,-8],[-3.8,-5.2],[-2,-3.3],[-0.2,-1.6],[1.6,0.2],[3.2,2.9],[4.6,6.2],[6.2,8.6]],
 [[-21.7,-32.2],[-20.8,-29.5],[-19.4,-26.8],[-18.6,-24.4],[-16.6,-21.8],[-14.6,-19.2],[-12.6,-16.6],[-10.7,-14.2],[-8.9,-12],[-6.6,-11.6],[-5.8,-8.4],[-4,-5.6],[-2.2,-3.7],[-0.4,-2],[1.4,-0.2],[2.8,1.5],[4.0,4.5],[7.2,9.6]],
 [[-22.6,-33.3],[-21,-30.5],[-19.6,-27.3],[-18.9,-25],[-16.9,-22.4],[-14.9,-19.8],[-12.9,-17.2],[-11,-14.8],[-9.2,-12.6],[-7.6,-12.2],[-6,-8.8],[-4.2,-6],[-2.4,-4.1],[-0.6,-2.4],[1.2,-0.6],[2.7,2.1],[3.8,4.0],[8.5,10.4]],
 [[-22.8,-34.8],[-21.7,-31.4],[-20.2,-30.0],[-19.0,-27.6],[-19.2,-25.5],[-17.2,-23],[-15.2,-20.4],[-13.2,-17.8],[-11.3,-15.4],[-9.5,-13.2],[-7.9,-12.9],[-6.2,-9.2],[-4.4,-6.4],[-2.6,-4.5],[-0.8,-2.8],[1,-1],[2.5,1.1],[3.6,3.6],[5.6,7.3],[9.2,10.4]]
];
const venP5 = [[-14.5,-17.3],[-15.9,-19.1],[-16.6,-20.3],[-17.4,-21.7],[-18.2,-22.6],[-19.2,-23.4],[-18.9,-24.2],[-19.4,-25.0],[-19.5,-26.0],[-19.4,-26.8],[-19.6,-27.3],[-19.0,-27.6]];
const venP50 = [[-3.0,-2.3],[-3.7,-3.3],[-4.3,-4.1],[-4.8,-4.7],[-5.5,-5.7],[-6.1,-7.0],[-7.0,-8.2],[-7.45,-9.1],[-7.6,-10.6],[-6.6,-11.6],[-7.6,-12.2],[-7.9,-12.9]];
const venP95 = [[5.8,3.1],[5.4,4.4],[5.4,3.75],[5.1,3.4],[4.6,3.1],[4.3,2.6],[3.8,2.4],[3.5,3.4],[3.2,2.9],[2.8,1.5],[2.7,2.1],[2.5,1.1]];
const venBandHi = [[-22.5,-18.8],[-20.0,-17.1],[-17.4,-15.2],[-14.1,-11.3],[-10.9,-9.3],[-7.6,-6.7],[-4.3,-3.4],[-1.1,0.2],[2.2,4.7],[3.8,7.7],[5.4,10.6],[6.9,11.8],[7.9,10.9]];
const venBandLo = [[-22.5,-26.5],[-20,-22.4],[-17.4,-19.4],[-14.1,-15.8],[-10.9,-12.9],[-7.6,-9.3],[-4.3,-6.0],[-1.1,-3.4],[2.2,0.2],[4.1,1.8],[6.75,3.4],[6.8,4.4],[7.9,4.7]];
const venRef = [-34.7, 11.9];
const venXTicks = [-20,0], venYTicks = [-30,-20,-10,0,10];

// ---------------- STYLE ----------------
const FONT = '"DejaVu Sans", sans-serif';
const yearRGB = [[159,202,225],[137,190,220],[113,178,215],[94,165,209],[75,152,201],[58,138,194],[43,123,186],[29,108,177],[18,94,166],[8,79,153],[8,64,131],[8,48,107]];
const ALPHA = 0.72, LEG_ALPHA = 0.6;
const rgba = (c,a) => `rgba(${c[0]},${c[1]},${c[2]},${a})`;
const BAND = 'rgba(160,196,232,0.45)';
const GRID = 'rgba(176,176,176,0.35)';
const REF = 'rgba(60,60,60,0.8)';
const M = 245;
const PAGE_W = 4205, PAGE_H = 1949;

// fit the 4205x1949 layout to the viewport the browser really has
const fitScale = Math.min((window.innerWidth || PAGE_W) / PAGE_W, (window.innerHeight || PAGE_H) / PAGE_H);
document.getElementById('root').style.transform = `scale(${fitScale})`;
const DPR = (window.devicePixelRatio || 1) * fitScale;

const join = (a, b) => a.map((pts, k) => pts.concat(b ? b[k] : []));

const panels = [
 {id:'pa', letter:'(a)', title:'Annual mean tas in SWE', box:[245,99,1219,815], xr:[-0.367,6.03], yr:[-0.39,6.57], q:join(sweQ, sweQMid), p5:sweP5, p50:sweP50, p95:sweP95, hi:sweBandHi, lo:sweBandLo, ref:sweRef, xt:sweXTicks, yt:sweYTicks, yTitle:'Emulated Quantiles (°C)', yPad:116},
 {id:'pb', letter:'(b)', title:'Annual mean tas in PNG', box:[1400,99,2375,815], xr:[0.177,3.083], yr:[0.123,3.157], q:join(pngQ, pngQMid), p5:pngP5, p50:pngP50, p95:pngP95, hi:pngBandHi, lo:pngBandLo, ref:pngRef, xt:pngXTicks, yt:pngYTicks, xTitle:'Simulated Quantiles (°C)'},
 {id:'pc', letter:'(c)', title:'Annual mean tas in BEN', box:[2555,99,3531,815], xr:[-0.425,4.18], yr:[-0.41,4.18], q:join(benQ, benQMid), p5:benP5, p50:benP50, p95:benP95, hi:benBandHi, lo:benBandLo, ref:benRef, xt:benXTicks, yt:benYTicks},
 {id:'pd', letter:'(d)', title:'Annual mean pr in PCN', box:[245,1057,1219,1773], xr:[-44.5,18.1], yr:[-50.7,18.45], q:join(pcnQ, pcnQMid), p5:pcnP5, p50:pcnP50, p95:pcnP95, hi:pcnBandHi, lo:pcnBandLo, ref:pcnRef, xt:pcnXTicks, yt:pcnYTicks, yTitle:'Emulated Quantiles (%)', yPad:33},
 {id:'pe', letter:'(e)', title:'Annual mean pr in CHE', box:[1400,1057,2375,1773], xr:[-18.3,24.78], yr:[-18.8,29.0], q:join(cheQ, cheQMid), p5:cheP5, p50:cheP50, p95:cheP95, hi:cheBandHi, lo:cheBandLo, ref:cheRef, xt:cheXTicks, yt:cheYTicks, xTitle:'Simulated Quantiles (%)'},
 {id:'pf', letter:'(f)', title:'Annual mean pr in VEN', box:[2555,1057,3531,1773], xr:[-37,14.2], yr:[-37,14.2], q:join(venQ, null), p5:venP5, p50:venP50, p95:venP95, hi:venBandHi, lo:venBandLo, ref:venRef, xt:venXTicks, yt:venYTicks}
];

const fmt = v => (v < 0 ? '\u2212' : '') + Math.abs(v);
const toXY = arr => arr.map(([x,y]) => ({x, y}));

const framePlugin = {
  id: 'frameAndLetter',
  afterDraw(chart, args, opts) {
    const {ctx, chartArea: a} = chart;
    ctx.save();
    ctx.strokeStyle = '#000'; ctx.lineWidth = 3;
    ctx.strokeRect(a.left, a.top, a.right - a.left, a.bottom - a.top);
    ctx.fillStyle = '#000';
    ctx.font = '66px ' + FONT;
    ctx.textBaseline = 'alphabetic'; ctx.textAlign = 'left';
    ctx.fillText(opts.letter, a.left + 22, a.top + 84);
    ctx.restore();
  }
};

function makePanel(p) {
  const cv = document.getElementById(p.id);
  const W = (p.box[2] - p.box[0]) + 2*M, H = (p.box[3] - p.box[1]) + 250;
  cv.style.width = W + 'px'; cv.style.height = H + 'px';
  cv.width = W; cv.height = H;
  cv.style.left = (p.box[0] - M) + 'px'; cv.style.top = (p.box[1] - 99) + 'px';
  const ds = [];
  ds.push({data: toXY(p.lo), showLine: true, pointRadius: 0, borderWidth: 0, borderColor: 'rgba(0,0,0,0)', fill: false, order: 1000});
  ds.push({data: toXY(p.hi), showLine: true, pointRadius: 0, borderWidth: 0, borderColor: 'rgba(0,0,0,0)', backgroundColor: BAND, fill: '-1', order: 999});
  let ord = 990;
  p.q.forEach((pts, k) => {
    ds.push({data: toXY(pts), pointRadius: 10.5, pointStyle: 'circle', pointBackgroundColor: rgba(yearRGB[k], ALPHA), pointBorderColor: 'rgba(255,255,255,0.6)', pointBorderWidth: 1.5, order: ord--});
    ds.push({data: toXY([p.p5[k]]), pointStyle: 'circle', pointRadius: 15.5, pointBorderWidth: 7, pointBorderColor: '#ff0000', pointBackgroundColor: 'rgba(0,0,0,0)', order: ord--});
    ds.push({data: toXY([p.p50[k]]), pointStyle: 'rect', pointRadius: 18.4, pointBorderWidth: 7, pointBorderColor: '#008000', pointBackgroundColor: 'rgba(0,0,0,0)', order: ord--});
    ds.push({data: toXY([p.p95[k]]), pointStyle: 'triangle', pointRadius: 14, pointBorderWidth: 7, pointBorderColor: '#0000ff', pointBackgroundColor: 'rgba(0,0,0,0)', order: ord--});
  });
  ds.push({data: p.ref.map(v => ({x: v, y: v})), showLine: true, pointRadius: 0, borderColor: REF, borderWidth: 5, borderDash: [20, 10], fill: false, order: 0});

  const tickFont = {family: FONT, size: 55};
  const gridOpts = {color: GRID, lineWidth: 3, drawTicks: true, tickLength: 14, tickColor: '#000', tickWidth: 3};
  new Chart(cv, {
    type: 'scatter',
    data: {datasets: ds},
    plugins: [framePlugin],
    options: {
      responsive: false, animation: false, devicePixelRatio: DPR, events: [],
      layout: {padding: {left: 0, right: M, top: 0, bottom: 0}},
      plugins: {
        legend: {display: false}, tooltip: {enabled: false},
        title: {display: true, text: p.title, fullSize: false, color: '#000', font: {family: FONT, size: 58, weight: 'normal'}, padding: {top: 28, bottom: 1.4}},
        frameAndLetter: {letter: p.letter}
      },
      scales: {
        x: {type: 'linear', position: 'bottom', min: p.xr[0], max: p.xr[1],
            afterFit: s => { s.height = 151; },
            afterBuildTicks: s => { s.ticks = p.xt.map(v => ({value: v})); },
            grid: gridOpts, border: {display: false},
            ticks: {font: tickFont, color: '#000', padding: 3, maxRotation: 0, autoSkip: false, callback: fmt},
            title: {display: !!p.xTitle, text: p.xTitle || '', color: '#000', font: {family: FONT, size: 51}, padding: 0}},
        y: {type: 'linear', position: 'left', min: p.yr[0], max: p.yr[1],
            afterFit: s => { s.width = M; },
            afterBuildTicks: s => { s.ticks = p.yt.map(v => ({value: v})); },
            grid: gridOpts, border: {display: false},
            ticks: {font: tickFont, color: '#000', padding: 8, autoSkip: false, callback: fmt},
            title: {display: !!p.yTitle, text: p.yTitle || '', color: '#000', font: {family: FONT, size: 51}, padding: {top: p.yPad || 0, bottom: 0}}}
      }
    }
  });
}
panels.forEach(makePanel);

// ---------------- LEGEND ----------------
(function buildLegend(){
  const root = document.getElementById('root');
  const svgNS = 'http://www.w3.org/2000/svg';
  const svg = document.getElementById('lsvg');
  const mk = (tag, attrs) => { const e = document.createElementNS(svgNS, tag); for (const k in attrs) e.setAttribute(k, attrs[k]); svg.appendChild(e); return e; };
  const addText = (txt, cy, lh) => {
    const d = document.createElement('div'); d.className = 'lt';
    d.innerHTML = txt; d.style.top = (cy - lh/2) + 'px'; d.style.lineHeight = lh + 'px';
    root.appendChild(d);
  };
  const mx = 3659, y0 = 331, dy = 76.3;
  years.forEach((yr, i) => {
    const cy = y0 + dy*i;
    mk('circle', {cx: mx, cy: cy, r: 8, fill: rgba(yearRGB[i], LEG_ALPHA), stroke: 'rgba(255,255,255,0.6)', 'stroke-width': 1.2});
    addText(yr, cy, 61);
  });
  let cy = y0 + dy*12;
  mk('circle', {cx: mx, cy: cy, r: 14, fill: 'none', stroke: '#ff0000', 'stroke-width': 7});
  addText(percentileLabels[0], cy, 61);
  cy = y0 + dy*13;
  mk('rect', {x: mx-12, y: cy-12, width: 24, height: 24, fill: 'none', stroke: '#008000', 'stroke-width': 7});
  addText(percentileLabels[1], cy, 61);
  cy = y0 + dy*14;
  mk('polygon', {points: `${mx},${cy-15} ${mx-12},${cy+10} ${mx+12},${cy+10}`, fill: 'none', stroke: '#0000ff', 'stroke-width': 7, 'stroke-linejoin': 'miter'});
  addText(percentileLabels[2], cy, 61);
  cy = y0 + dy*15;
  mk('line', {x1: 3605, y1: cy, x2: 3711, y2: cy, stroke: REF, 'stroke-width': 5, 'stroke-dasharray': '20 10'});
  addText('1:1 Reference', cy, 61);
  mk('rect', {x: 3605, y: 1571, width: 106, height: 39, fill: BAND});
  addText('Expected<br>deviation', 1585.5, 57);
})();
</script>
</body></html>
